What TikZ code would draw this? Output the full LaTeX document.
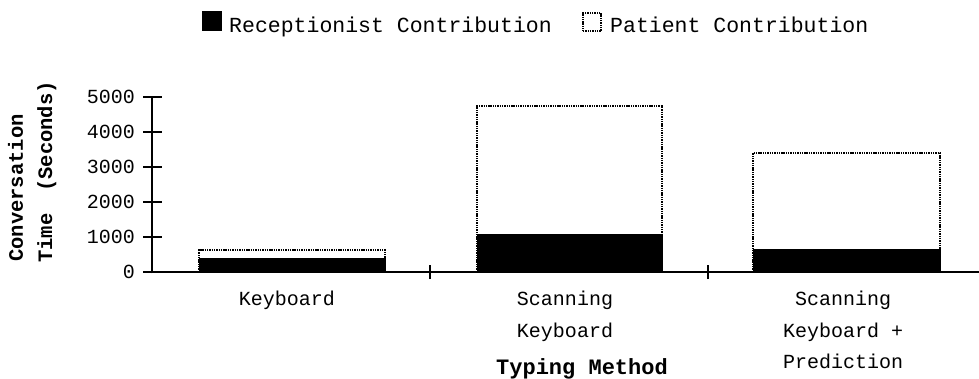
\documentclass[tikz,border=0pt]{standalone}
\usepackage{fontspec}
\setmonofont{Liberation Mono}
\begin{document}
\begin{tikzpicture}[x=1pt,y=-1pt,
  lbl/.style={font=\ttfamily\fontsize{20}{24}\selectfont, inner sep=0pt},
  leg/.style={font=\ttfamily\fontsize{21.5}{26}\selectfont, inner sep=0pt},
  ttl/.style={font=\ttfamily\bfseries\fontsize{22}{26}\selectfont, inner sep=0pt},
  ttlv/.style={font=\ttfamily\bfseries\fontsize{20.5}{24}\selectfont, inner sep=0pt, rotate=90, anchor=base west},
  axisline/.style={line width=1.8pt},
  recept/.style={fill=black, draw=black, line width=0.8pt},
  patient/.style={fill=white, draw=black, line width=1.7pt, dash pattern=on 1.4pt off 0.9pt}]
\useasboundingbox (0,0) rectangle (979,378);

% legend
\node[recept, minimum size=19pt, inner sep=0pt] (lk1) at (212,21) {};
\node[leg, anchor=base west] (lt1) at (229,32) {Receptionist Contribution};
\node[patient, minimum size=18pt, inner sep=0pt] (lk2) at (592,22) {};
\node[leg, anchor=base west] (lt2) at (610,32) {Patient Contribution};

% value axis: y = 272 - 0.035*seconds
\begin{scope}[shift={(0,272)}, yscale=-0.035]
  % bars (receptionist part drawn over the patient part)
  \path[patient] (199,0) rectangle (385,625);
  \path[recept]  (199,0) rectangle (385,400);
  \path[patient] (477,0) rectangle (662,4740);
  \path[recept]  (477,0) rectangle (662,1080);
  \path[patient] (753,0) rectangle (940,3400);
  \path[recept]  (753,0) rectangle (940,650);

  \coordinate (ybot) at (152,-40);
  \coordinate (ytop) at (152,5000);
  \draw[axisline] (ybot) -- (ytop);
  \foreach \v in {0,1000,...,5000}{
    \draw[axisline] (143,\v) -- (162,\v);
    \node[lbl, anchor=east] (t\v) at (135,\v) {\v};
  }
  \coordinate (xl) at (143,0);
  \coordinate (xr) at (979,0);
  \draw[axisline] (xl) -- (xr);
  \draw[axisline] (430,-200) -- (430,200);
  \draw[axisline] (708,-200) -- (708,200);
\end{scope}

% category labels
\node[lbl, anchor=base] (c1) at (287,305) {Keyboard};
\node[lbl, anchor=base] (c2a) at (565,305) {Scanning};
\node[lbl, anchor=base] (c2b) at (565,337) {Keyboard};
\node[lbl, anchor=base] (c3a) at (843,305) {Scanning};
\node[lbl, anchor=base] (c3b) at (843,337) {Keyboard +};
\node[lbl, anchor=base] (c3c) at (843,368) {Prediction};

% axis titles
\node[ttl, anchor=base] (xt) at (582,374) {Typing Method};
\node[ttlv] (yt1) at (23,262) {Conversation};
\node[ttlv] (yt2) at (52,263) {Time};
\node[ttlv] (yt3) at (52,192) {(Seconds)};
\end{tikzpicture}
\end{document}
